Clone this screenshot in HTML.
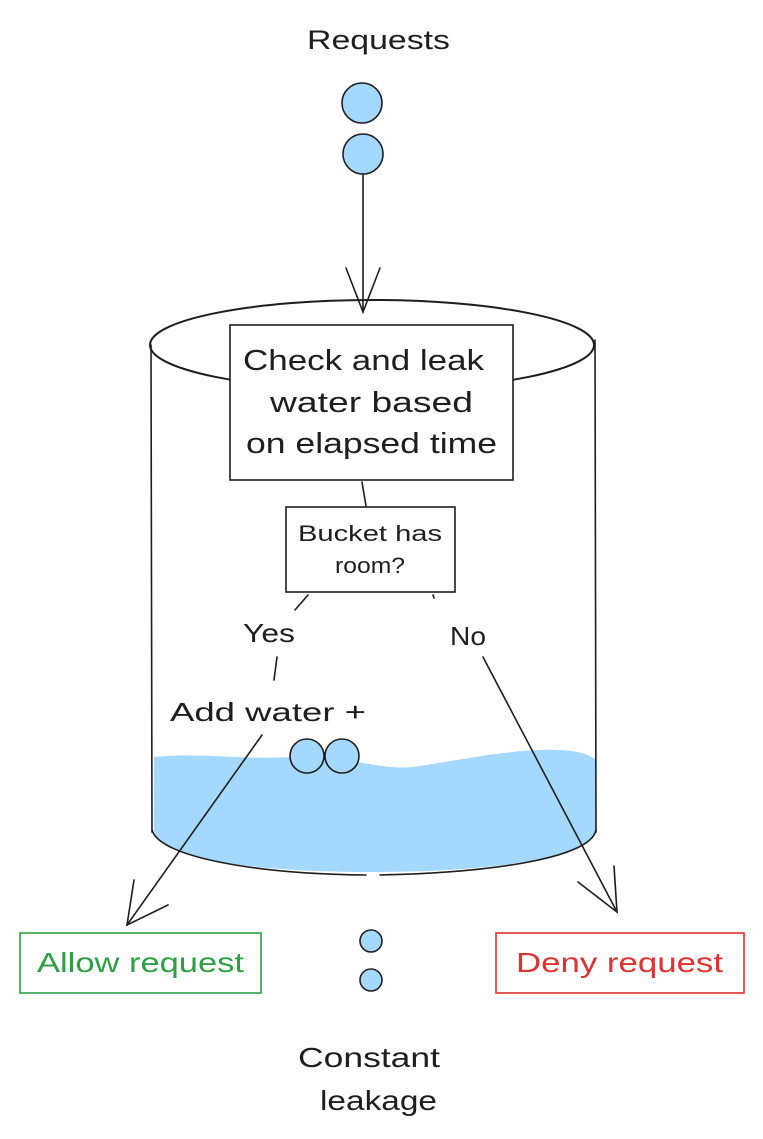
<!DOCTYPE html>
<html><head><meta charset="utf-8"><style>
html,body{margin:0;padding:0;background:#fff;}
svg{display:block;}
text{font-family:"Liberation Sans",sans-serif;fill:#1e1e1e;}
</style></head><body>
<svg width="763" height="1139" viewBox="0 0 763 1139" xmlns="http://www.w3.org/2000/svg">
<g stroke="#1e1e1e" stroke-width="1.6" fill="none" stroke-linecap="round">
<path d="M154,757 C200,752 240,760 290,757 C340,752 380,773 420,766 C470,758 520,748 560,750 C580,751 590,755 596,760 L596,830 C590,860 480,872 372,872 C260,872 160,860 154,830 Z" fill="#a5d8ff" stroke="none"/>
<ellipse cx="372" cy="345" rx="222" ry="45" stroke-width="2"/>
<line x1="151" y1="345" x2="152" y2="832"/>
<line x1="595" y1="340" x2="596" y2="832"/>
<path d="M152,830 C160,858 260,874 366,875 M380,875 C480,873 590,860 596,830"/>
<circle cx="362" cy="103" r="20" fill="#a5d8ff"/>
<circle cx="363" cy="154" r="20" fill="#a5d8ff"/>
<line x1="363" y1="175" x2="363" y2="312"/>
<path d="M346,268 L363,312 L380,268"/>
<rect x="230" y="325" width="283" height="155" fill="#fff"/>
<line x1="362" y1="482" x2="366" y2="506"/>
<rect x="286" y="507" width="169" height="85" fill="#fff"/>
<line x1="308" y1="595" x2="295" y2="610"/>
<line x1="433" y1="595" x2="434" y2="598"/>
<line x1="277" y1="657" x2="274" y2="680"/>
<circle cx="307" cy="756" r="17" fill="#a5d8ff"/>
<circle cx="342" cy="756" r="17" fill="#a5d8ff"/>
<line x1="262" y1="735" x2="127" y2="925"/>
<path d="M134,880 L127,925 L168,905"/>
<line x1="483" y1="657" x2="617" y2="912"/>
<path d="M578,882 L617,912 L614,866"/>
<rect x="20" y="933" width="241" height="60" stroke="#2f9e44"/>
<rect x="496" y="933" width="248" height="60" stroke="#e03131"/>
<circle cx="371" cy="941" r="11" fill="#a5d8ff"/>
<circle cx="371" cy="980" r="11" fill="#a5d8ff"/>
</g>
<g lengthAdjust="spacingAndGlyphs">
<text x="307" y="49" font-size="27" textLength="143" lengthAdjust="spacingAndGlyphs">Requests</text>
<text x="243" y="370" font-size="29" textLength="241" lengthAdjust="spacingAndGlyphs">Check and leak</text>
<text x="270" y="412" font-size="29" textLength="203" lengthAdjust="spacingAndGlyphs">water based</text>
<text x="246" y="453" font-size="29" textLength="251" lengthAdjust="spacingAndGlyphs">on elapsed time</text>
<text x="298" y="541" font-size="22" textLength="144" lengthAdjust="spacingAndGlyphs">Bucket has</text>
<text x="335" y="573" font-size="22" textLength="70" lengthAdjust="spacingAndGlyphs">room?</text>
<text x="243" y="642" font-size="26" textLength="52" lengthAdjust="spacingAndGlyphs">Yes</text>
<text x="450" y="645" font-size="26" textLength="36" lengthAdjust="spacingAndGlyphs">No</text>
<text x="170" y="721" font-size="26" textLength="196" lengthAdjust="spacingAndGlyphs">Add water +</text>
<text x="37" y="972" font-size="28" textLength="207" lengthAdjust="spacingAndGlyphs" style="fill:#2f9e44">Allow request</text>
<text x="516" y="972" font-size="28" textLength="207" lengthAdjust="spacingAndGlyphs" style="fill:#e03131">Deny request</text>
<text x="298" y="1067" font-size="28" textLength="142" lengthAdjust="spacingAndGlyphs">Constant</text>
<text x="320" y="1110" font-size="28" textLength="117" lengthAdjust="spacingAndGlyphs">leakage</text>
</g>
</svg>
</body></html>
